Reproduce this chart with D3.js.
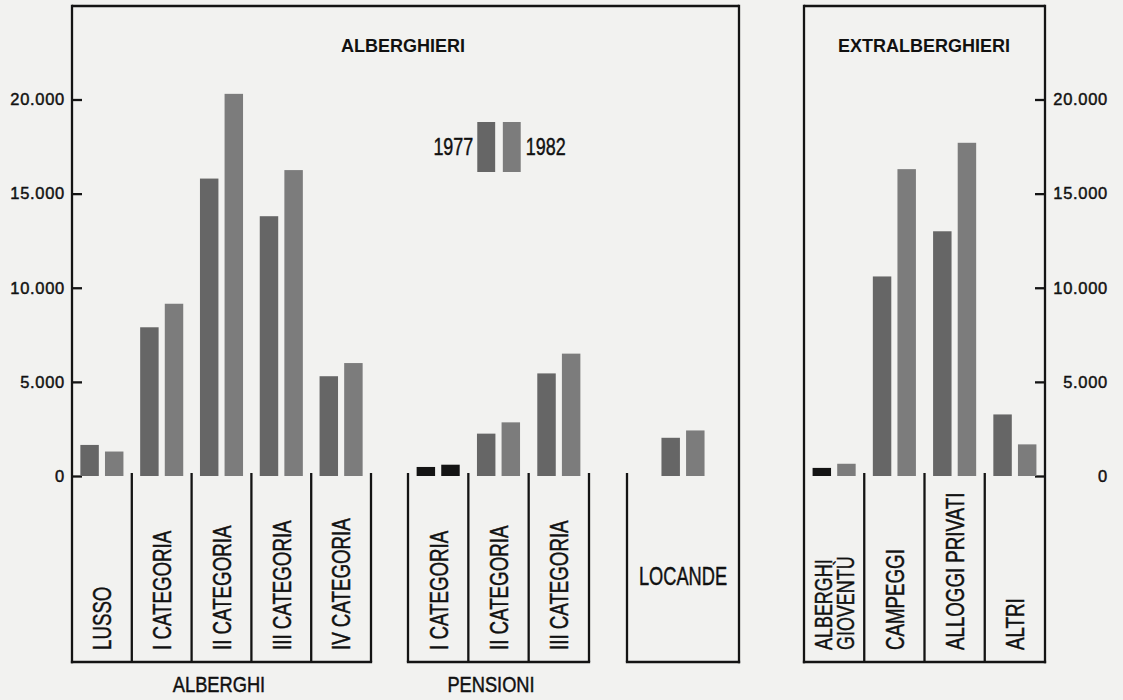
<!DOCTYPE html>
<html>
<head>
<meta charset="utf-8">
<script src="https://cdn.jsdelivr.net/npm/d3@7"></script>
<style>
  body { margin: 0; background: #f2f2f0; }
  svg { display: block; }
  text { font-family: "Liberation Sans", Arial, Helvetica, sans-serif; fill: #111; }
  text.print { stroke: #111; stroke-width: 0.45; }
</style>
</head>
<body>
<svg width="1123" height="700"></svg>
<script>
// values (presenze / posti, 1977 vs 1982)
var years = ["1977", "1982"];
var yTicks = [0, 5000, 10000, 15000, 20000];

var albCats = ["LUSSO", "I CATEGORIA", "II CATEGORIA", "III CATEGORIA", "IV CATEGORIA"];
var alb1977 = [1650, 7900, 15800, 13800, 5300];
var alb1982 = [1300, 9150, 20300, 16250, 6000];

var penCats = ["I CATEGORIA", "II CATEGORIA", "III CATEGORIA"];
var pen1977 = [480, 2250, 5450];
var pen1982 = [600, 2850, 6500];

var locCats = ["LOCANDE"];
var loc1977 = [2030];
var loc1982 = [2420];

var extCats = ["ALBERGHI GIOVENTÙ", "CAMPEGGI", "ALLOGGI PRIVATI", "ALTRI"];
var ext1977 = [430, 10600, 13000, 3270];
var ext1982 = [650, 16300, 17700, 1680];

var svg = d3.select("svg");
var ink = "#141414", lw = 2.3;
var colors = {"1977": "#666666", "1982": "#7c7c7c"};
// the smallest bars came out almost black in print
var inkBars = ["pen|I CATEGORIA|1977", "pen|I CATEGORIA|1982", "ext|ALBERGHI GIOVENTÙ|1977"];

var yTop = 6, yBox = 473, yBottom = 662;
var y = d3.scaleLinear().domain([0, 20000]).range([476, 99.5]);

var loc = d3.formatLocale({decimal: ",", thousands: ".", grouping: [3], currency: ["", ""]});
var fmt = loc.format(",");

function line(x1, y1, x2, y2) {
    svg.append("line")
        .attr("x1", x1).attr("y1", y1).attr("x2", x2).attr("y2", y2)
        .attr("stroke", ink).attr("stroke-width", lw);
}

// one boxed group of categories with its paired bars
function drawGroup(key, cats, v77, v82, x0, x1, opts) {
    opts = opts || {};
    var x = d3.scaleBand().domain(cats).range([x0, x1]);
    var rows = cats.map(function(c, i) { return {cat: c, v: [v77[i], v82[i]]}; });

    var g = svg.append("g").attr("class", "group " + key);
    rows.forEach(function(r) {
        var cx = x(r.cat) + x.bandwidth() / 2;
        var inner = d3.scaleBand().domain(years).range([cx - 24, cx + 24])
            .paddingInner(0.25).paddingOuter(0.1);
        g.selectAll(null)
            .data(years.map(function(yr, j) { return {year: yr, value: r.v[j]}; }))
            .enter().append("rect")
            .attr("x", function(d) { return inner(d.year); })
            .attr("width", inner.bandwidth())
            .attr("y", function(d) { return y(d.value); })
            .attr("height", function(d) { return y(0) - y(d.value); })
            .attr("fill", function(d) {
                return inkBars.indexOf(key + "|" + r.cat + "|" + d.year) >= 0 ? ink : colors[d.year];
            });
    });

    // box: separators, sides and bottom
    if (!opts.noLeft) line(x0, yBox, x0, yBottom);
    if (!opts.noRight) line(x1, yBox, x1, yBottom);
    cats.slice(1).forEach(function(c) { line(x(c), yBox, x(c), yBottom); });
    line(x0 - lw / 2, yBottom, x1 + lw / 2, yBottom);

    if (opts.horizontal) {
        rows.forEach(function(r) {
            g.append("text")
                .attr("class", "print")
                .attr("text-anchor", "middle")
                .attr("font-size", 25)
                .attr("transform", "translate(" + (x(r.cat) + x.bandwidth() / 2) + ",585) scale(0.73,1)")
                .text(r.cat);
        });
        return x;
    }

    rows.forEach(function(r) {
        var cx = x(r.cat) + x.bandwidth() / 2;
        var parts = opts.twoLine && r.cat === cats[0] ? r.cat.split(" ") : [r.cat];
        parts.forEach(function(p, k) {
            var off = parts.length > 1 ? (k === 0 ? -10 : 12) : 0;
            var fs = parts.length > 1 ? 23 : 26;
            var sx = parts.length > 1 ? 0.78 : 0.72;
            g.append("text")
                .attr("class", "print")
                .attr("text-anchor", "start")
                .attr("font-size", fs)
                .attr("dy", "0.36em")
                .attr("transform", "translate(" + (cx + off) + ",650) rotate(-90) scale(" + sx + ",1)")
                .text(p);
        });
    });
    return x;
}

// left panel frame (axis line, top, right side)
line(72, yTop - lw / 2, 72, yBottom + lw / 2);
line(72, yTop, 739, yTop);
line(739, yTop - lw / 2, 739, yBottom + lw / 2);

// right panel frame
line(804, yTop - lw / 2, 804, yBottom + lw / 2);
line(804, yTop, 1045, yTop);
line(1045, yTop - lw / 2, 1045, yBottom + lw / 2);

var gL = svg.append("g")
    .attr("transform", "translate(72,0)")
    .call(d3.axisLeft(y).tickValues(yTicks).tickFormat(fmt).tickSize(-10).tickSizeOuter(0).tickPadding(7));
var gR = svg.append("g")
    .attr("transform", "translate(1045,0)")
    .call(d3.axisRight(y).tickValues(yTicks).tickFormat(fmt).tickSize(-10).tickSizeOuter(0).tickPadding(7));
[gL, gR].forEach(function(g) {
    g.select(".domain").remove();
    g.selectAll(".tick line").attr("stroke", ink).attr("stroke-width", lw);
    g.selectAll(".tick text")
        .attr("class", "print")
        .attr("font-family", "'Liberation Sans', Arial, sans-serif")
        .attr("font-size", 16.5)
        .attr("letter-spacing", 0.7)
        .attr("fill", ink);
});
gR.selectAll(".tick text").attr("text-anchor", "end").attr("x", 63);

drawGroup("alb", albCats, alb1977, alb1982, 72, 371, {noLeft: true});
drawGroup("pen", penCats, pen1977, pen1982, 408, 589);
drawGroup("loc", locCats, loc1977, loc1982, 627, 739, {noRight: true, horizontal: true});
drawGroup("ext", extCats, ext1977, ext1982, 804, 1045, {noLeft: true, noRight: true, twoLine: true});

// group captions under the boxes
svg.append("text").attr("class", "print").attr("text-anchor", "middle").attr("font-size", 22)
    .attr("transform", "translate(219,692) scale(0.83,1)").text("ALBERGHI");
svg.append("text").attr("class", "print").attr("text-anchor", "middle").attr("font-size", 22)
    .attr("transform", "translate(491,692) scale(0.83,1)").text("PENSIONI");

// panel titles
svg.append("text").attr("text-anchor", "middle").attr("font-size", 18).attr("font-weight", "bold")
    .attr("x", 403).attr("y", 52).text("ALBERGHIERI");
svg.append("text").attr("text-anchor", "middle").attr("font-size", 18).attr("font-weight", "bold")
    .attr("x", 924).attr("y", 52).text("EXTRALBERGHIERI");

// legend
var legX = d3.scaleBand().domain(years).range([476, 522]).paddingInner(0.3).paddingOuter(0.05);
svg.selectAll(".leg").data(years).enter().append("rect")
    .attr("class", "leg")
    .attr("x", function(d) { return legX(d); })
    .attr("width", legX.bandwidth())
    .attr("y", 122).attr("height", 50)
    .attr("fill", function(d) { return colors[d]; });
svg.selectAll(".legt").data(years).enter().append("text")
    .attr("class", "legt print")
    .attr("font-size", 23)
    .attr("text-anchor", function(d, i) { return i ? "start" : "end"; })
    .attr("transform", function(d, i) {
        var xx = i ? legX(d) + legX.bandwidth() + 5 : legX(d) - 4;
        return "translate(" + xx + ",155) scale(0.78,1)";
    })
    .text(function(d) { return d; });
</script>
</body>
</html>
